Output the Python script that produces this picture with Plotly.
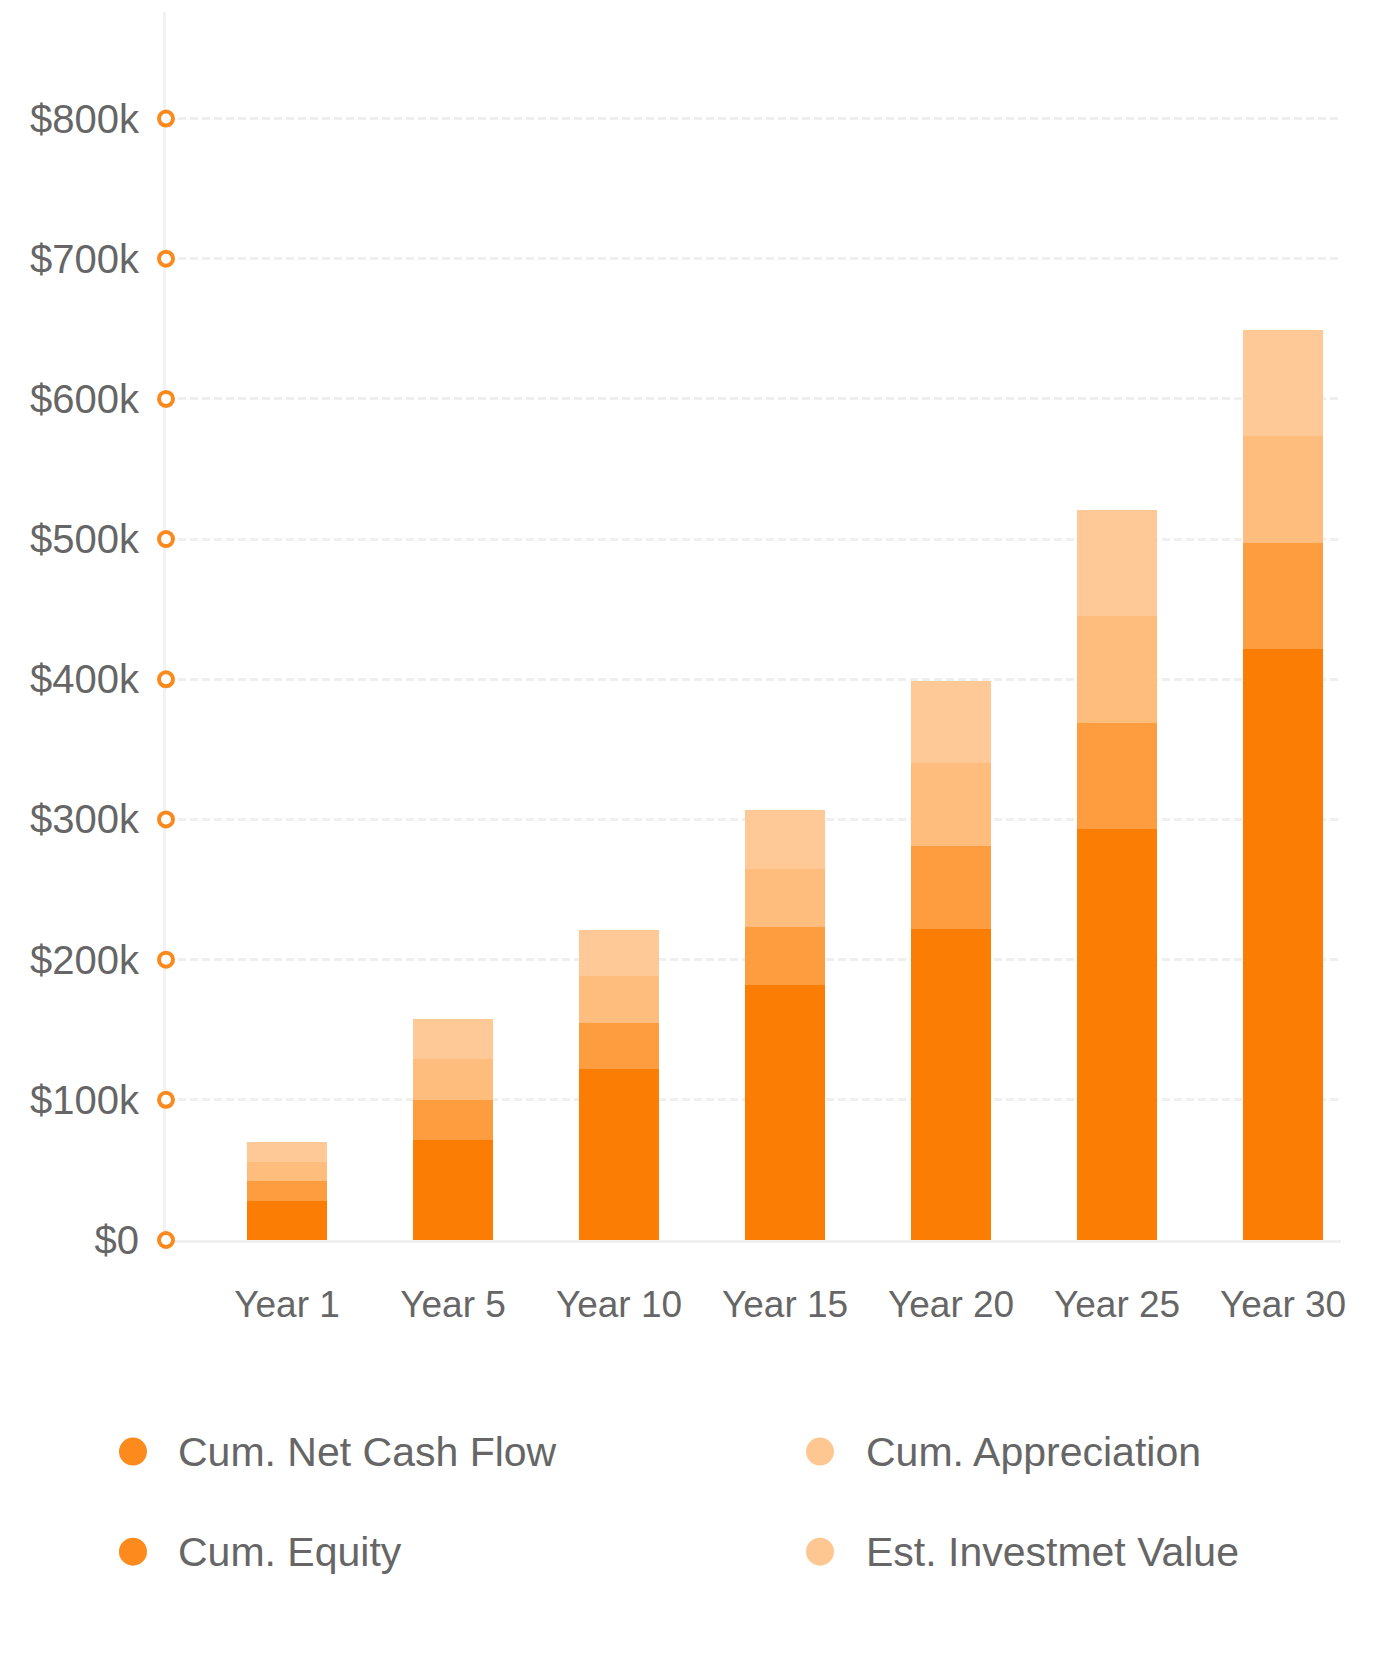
import plotly.graph_objects as go

# ---- data ----
years = ["Year 1", "Year 5", "Year 10", "Year 15", "Year 20", "Year 25", "Year 30"]
cum_net_cash_flow = [28000, 71000, 122000, 182000, 222000, 293000, 421500]
cum_equity = [14000, 29000, 33000, 41000, 59000, 76000, 76000]
cum_appreciation = [14000, 29000, 33500, 42000, 59000, 76000, 76000]
est_investment_value = [14000, 29000, 33000, 42000, 59000, 76000, 76000]

tick_vals = [0, 100000, 200000, 300000, 400000, 500000, 600000, 700000, 800000]
tick_text = ["$0", "$100k", "$200k", "$300k", "$400k", "$500k", "$600k", "$700k", "$800k"]

legend_names = ["Cum. Net Cash Flow", "Cum. Appreciation", "Cum. Equity", "Est. Investmet Value"]
legend_colors = ["#FD8A1C", "#FEC792", "#FD8A1C", "#FEC792"]

# ---- styles ----
bar_colors = ["#FB7D03", "#FD9D40", "#FEBC7D", "#FEC996"]
FONT = "Liberation Sans, Arial, sans-serif"
TEXT = "#666666"

fig = go.Figure()
series = [
    ("Cum. Net Cash Flow", cum_net_cash_flow),
    ("Cum. Equity", cum_equity),
    ("Cum. Appreciation", cum_appreciation),
    ("Est. Investmet Value", est_investment_value),
]
for (name, vals), col in zip(series, bar_colors):
    fig.add_trace(go.Bar(
        x=years, y=vals, name=name, marker=dict(color=col, line=dict(width=0)),
        width=0.482, showlegend=False, hoverinfo="x+y+name",
    ))

# tick ring markers on the y axis
fig.add_trace(go.Scatter(
    x=[0] * len(tick_vals), y=tick_vals, xaxis="x2", mode="markers",
    marker=dict(symbol="circle", size=14, color="white",
                line=dict(color="#FB8A1E", width=4)),
    cliponaxis=False, showlegend=False, hoverinfo="skip",
))

fig.update_layout(
    width=1382, height=1658,
    margin=dict(l=158, r=49, t=4, b=426),
    paper_bgcolor="white", plot_bgcolor="white",
    barmode="stack",
    bargap=0,
    font=dict(family=FONT, size=37, color=TEXT),
    xaxis=dict(
        type="category", range=[-0.729, 6.349],
        showgrid=False, zeroline=False,
        showline=True, linecolor="#F0F0F0", linewidth=3,
        ticks="", ticklabelstandoff=30,
        tickfont=dict(family=FONT, size=37, color=TEXT),
        layer="below traces",
    ),
    xaxis2=dict(overlaying="x", range=[0, 1], visible=False, fixedrange=True),
    yaxis=dict(
        range=[0, 876000],
        tickvals=tick_vals, ticktext=tick_text,
        showgrid=True, gridcolor="#EFEFEF", gridwidth=3, griddash="8px,4px",
        zeroline=False,
        showline=True, linecolor="#F2F2F2", linewidth=3,
        ticks="", ticklabelstandoff=16,
        tickfont=dict(family=FONT, size=40, color=TEXT),
        layer="below traces",
    ),
    showlegend=False,
)

# custom legend (two columns, circle dots)
col_x = [-0.0281, 0.5566]
text_x = [0.0085, 0.5940]
row_y = [-0.1723, -0.2538]
for i, (name, col) in enumerate(zip(legend_names, legend_colors)):
    cy = row_y[i // 2]
    fig.add_shape(type="circle", xref="paper", yref="paper",
                  xsizemode="pixel", ysizemode="pixel",
                  xanchor=col_x[i % 2], yanchor=cy, x0=-14, x1=14, y0=-14, y1=14,
                  fillcolor=col, line=dict(width=0))
    fig.add_annotation(text=name, xref="paper", yref="paper",
                       x=text_x[i % 2], y=cy, xanchor="left", yanchor="middle",
                       showarrow=False, font=dict(family=FONT, size=41, color=TEXT))

fig.write_html("out.html")
